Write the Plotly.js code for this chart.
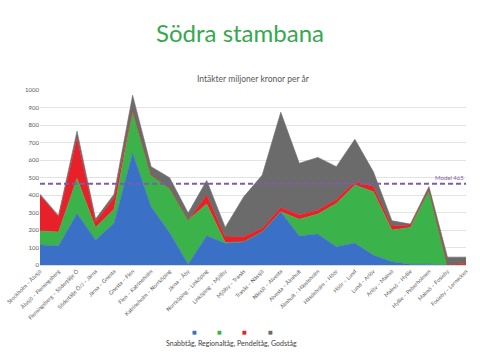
<!DOCTYPE html>
<html><head><meta charset="utf-8">
<script src="https://cdn.plot.ly/plotly-3.0.1.min.js"></script>
<style>html,body{margin:0;padding:0;background:#fff}#c{width:480px;height:360px}</style>
</head><body><div id="c"></div>
<script>
const categories = ["Stockholm – Älvsjö","Älvsjö – Flemingsberg","Flemingsberg – Södertälje Ö","Södertälje Ö/J – Järna","Järna – Gnesta","Gnesta – Flen","Flen – Katrineholm","Katrineholm – Norrköping","Järna – Åby","Norrköping – Linköping","Linköping – Mjölby","Mjölby – Tranås","Tranås – Nässjö","Nässjö – Alvesta","Alvesta – Älmhult","Älmhult – Hässleholm","Hässleholm – Höör","Höör – Lund","Lund – Arlöv","Arlöv – Malmö","Malmö – Hyllie","Hyllie – Peberholmen","Malmö – Fosieby","Fosieby – Lernacken"];
const snabbtag   = [115,110,295,143,240,640,333,185,5,167,125,133,190,305,166,177,105,126,57,19,4,5,0,0];
const regionaltag= [80,78,200,72,78,245,181,255,253,181,3,0,0,0,95,114,247,331,362,181,211,424,0,0];
const pendeltag  = [203,88,230,33,67,0,0,0,0,52,32,29,20,24,25,23,23,19,29,23,14,0,0,12];
const godstag    = [7,6,40,15,20,85,48,59,39,83,55,228,304,544,295,301,187,242,85,30,5,19,45,33];
const modelValue = 465;
const seriesNames = ["Snabbtåg","Regionaltåg","Pendeltåg","Godståg"];
const colors = ["#3a70c6","#3cb34a","#e8202a","#6b6b6b"];

const F = "Lato, 'Open Sans', sans-serif";
const data = [snabbtag, regionaltag, pendeltag, godstag].map((v,i)=>({
  type:'scatter', mode:'lines', x:categories, y:v, name:seriesNames[i],
  stackgroup:'one', fillcolor:colors[i], line:{color:colors[i], width:0.6}, hoverinfo:'skip'
}));

const px = p => (p-40)/426, py = p => (265-p)/175;
const annotations = [
  {text:"Intäkter miljoner kronor per år", xref:'paper', yref:'paper', x:0.5, y:py(79), showarrow:false, font:{family:F,size:8.5,color:'#595959'}, xanchor:'center', yanchor:'middle'},
  {text:"Model "+modelValue, xref:'paper', yref:'y', x:1, y:modelValue, showarrow:false, font:{family:F,size:6,color:'#7b5ea7'}, xanchor:'right', yanchor:'bottom', yshift:1},
  {text:seriesNames.join(", "), xref:'paper', yref:'paper', x:px(231), y:py(343), showarrow:false, font:{family:F,size:7,color:'#404040'}, xanchor:'center', yanchor:'middle'}
];
[194,219,244,270].forEach((p,i)=>annotations.push({text:"■", xref:'paper', yref:'paper', x:px(p), y:py(332), showarrow:false, font:{family:'DejaVu Sans',size:5,color:colors[i]}, xanchor:'center', yanchor:'middle'}));

const layout = {
  width:480, height:360, margin:{l:40,r:14,t:90,b:95}, showlegend:false,
  paper_bgcolor:'#fff', plot_bgcolor:'#fff',
  title:{text:"Södra stambana", font:{family:F,size:24,color:'#35a84f'}, x:0.5, xanchor:'center', y:1-34/360, yref:'container', yanchor:'middle'},
  xaxis:{type:'category', range:[0,categories.length-1], tickangle:-45, tickfont:{family:F,size:5.5,color:'#595959'}, showgrid:false, showline:true, linecolor:'#d9d9d9', linewidth:1, ticks:'', fixedrange:true},
  yaxis:{range:[0,1000], dtick:100, tickfont:{family:F,size:6,color:'#595959'}, gridcolor:'#dcdcdc', gridwidth:0.8, zeroline:false, showline:false, ticks:'', fixedrange:true},
  shapes:[{type:'line', xref:'paper', yref:'y', x0:0, x1:1, y0:modelValue, y1:modelValue, line:{color:'#7b5ea7', width:2, dash:'5px,3px'}}],
  annotations
};
Plotly.newPlot('c', data, layout, {staticPlot:true, displayModeBar:false});
</script></body></html>
